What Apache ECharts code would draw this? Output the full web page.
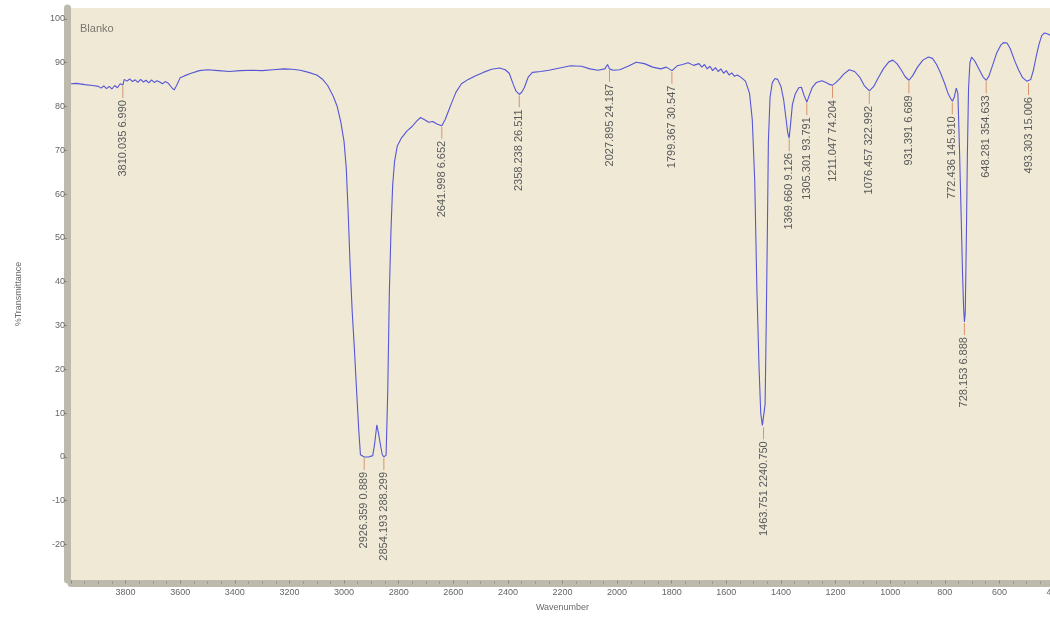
<!DOCTYPE html>
<html>
<head>
<meta charset="utf-8">
<title>Blanko – IR spectrum</title>
<script src="https://cdn.jsdelivr.net/npm/echarts@6/dist/echarts.min.js"></script>
<style>
  html, body { margin: 0; padding: 0; background: #ffffff; }
  #chart { width: 1050px; height: 617px; }
</style>
</head>
<body>
<div id="chart"></div>
<script>
// Sample name shown in the upper-left corner of the plot
const sampleName = 'Blanko';

// Spectrum: wavenumber (cm-1) and % transmittance
const wavenumbers = [
  4000, 3980, 3950, 3920, 3900, 3890, 3880, 3870, 3860, 3850, 3840, 3830, 3820, 3810, 3805,
  3795, 3785, 3775, 3765, 3755, 3745, 3735, 3725, 3715, 3705, 3695, 3685, 3675, 3665, 3655,
  3645, 3632, 3622, 3612, 3600, 3585, 3560, 3530, 3500, 3460, 3420, 3380, 3340, 3300, 3260,
  3220, 3190, 3160, 3130, 3100, 3080, 3060, 3040, 3025, 3012, 3000, 2992, 2985, 2978, 2970,
  2962, 2954, 2946, 2940, 2926, 2910, 2895, 2888, 2880, 2874, 2866, 2860, 2854, 2846, 2840,
  2834, 2828, 2822, 2815, 2805, 2790, 2770, 2750, 2735, 2720, 2705, 2690, 2675, 2660, 2642,
  2630, 2620, 2605, 2590, 2570, 2545, 2520, 2490, 2460, 2430, 2410, 2395, 2380, 2370, 2358,
  2350, 2340, 2325, 2310, 2280, 2250, 2210, 2170, 2130, 2100, 2070, 2045, 2035, 2028, 2015,
  1990, 1960, 1930, 1900, 1870, 1840, 1820, 1799, 1780, 1760, 1740, 1720, 1700, 1690, 1680,
  1670, 1660, 1650, 1640, 1630, 1620, 1610, 1600, 1590, 1580, 1570, 1560, 1545, 1530, 1515,
  1505, 1496, 1488, 1480, 1474, 1468, 1463.75, 1458, 1454, 1450, 1446, 1440, 1432, 1422, 1412,
  1400, 1390, 1382, 1375, 1370, 1364, 1358, 1348, 1335, 1325, 1315, 1305, 1296, 1285, 1270,
  1250, 1235, 1220, 1211, 1200, 1185, 1170, 1150, 1130, 1110, 1095, 1076, 1060, 1045, 1025,
  1005, 990, 975, 960, 945, 931, 918, 900, 880, 860, 845, 830, 815, 800, 788,
  780, 772, 765, 758, 752, 746, 740, 735, 731, 728, 725, 721, 717, 713, 708,
  702, 690, 675, 660, 648, 638, 625, 610, 595, 585, 572, 560, 545, 530, 515,
  500, 493, 485, 475, 465, 455, 445, 435, 425, 410, 400
];
const transmittance = [
  85.2, 85.3, 85.0, 84.8, 84.6, 84.2, 84.7, 84.1, 84.6, 84.0, 84.8, 84.3, 85.2, 84.9, 86.2,
  85.8, 86.3, 85.7, 86.1, 85.5, 86.2, 85.6, 86.0, 85.4, 86.1, 85.5, 85.9, 85.6, 85.2, 85.7,
  85.4, 84.4, 83.8, 85.0, 86.6, 87.0, 87.6, 88.2, 88.4, 88.2, 88.0, 88.2, 88.3, 88.2, 88.4,
  88.6, 88.5, 88.3, 87.8, 87.2, 86.3, 84.8, 82.4, 80.0, 76.5, 72.0, 66.0, 56.0, 44.0, 33.0,
  24.5, 15.0, 6.0, 0.5, 0.0, 0.0, 0.3, 3.0, 7.3, 5.5, 2.5, 0.5, 0.0, 0.4, 15.0,
  38.0, 52.0, 62.0, 67.5, 71.0, 72.8, 74.4, 75.5, 76.6, 77.5, 77.0, 76.4, 76.6, 76.0, 75.6,
  77.0, 78.6, 81.0, 83.3, 85.2, 86.2, 87.0, 87.8, 88.5, 88.8, 88.4, 87.6, 85.0, 83.5, 82.8,
  83.2, 84.3, 86.8, 87.8, 88.0, 88.3, 88.8, 89.3, 89.2, 88.6, 88.3, 88.6, 89.6, 88.6, 88.3,
  88.4, 89.2, 90.1, 89.8, 89.0, 88.6, 89.0, 88.2, 89.3, 89.6, 90.0, 89.4, 89.8, 89.0, 89.6,
  88.6, 89.2, 88.2, 88.9, 88.0, 88.6, 87.6, 88.2, 87.2, 87.7, 86.9, 87.2, 86.6, 85.8, 83.0,
  77.0, 63.0, 38.0, 20.0, 10.0, 7.2, 7.0, 12.0, 30.0, 50.0, 72.0, 82.0, 85.4, 86.4, 86.2,
  84.6, 81.5, 77.5, 74.0, 72.8, 76.5, 80.5, 82.8, 84.3, 84.4, 82.5, 81.0, 82.6, 84.4, 85.5,
  85.9, 85.5, 85.0, 84.9, 85.4, 86.3, 87.4, 88.4, 88.0, 86.6, 84.8, 83.6, 84.6, 86.4, 88.6,
  90.2, 90.6, 89.8, 88.4, 86.8, 86.0, 87.0, 89.0, 90.6, 91.3, 91.0, 89.6, 87.6, 85.2, 83.0,
  82.0, 81.2, 82.2, 84.2, 83.0, 70.0, 55.0, 42.0, 34.0, 30.8, 33.0, 50.0, 70.0, 84.0, 90.0,
  91.3, 90.4, 88.6, 86.8, 86.0, 87.0, 89.4, 92.2, 94.0, 94.6, 94.5, 93.2, 90.6, 88.4, 86.6,
  85.8, 85.6, 86.2, 88.4, 91.5, 94.2, 96.2, 96.8, 96.6, 96.2, 96.0
];

// Peak-pick annotations: position, curve value at the peak, printed label
const peakWavenumbers = [3810.035, 2926.359, 2854.193, 2641.998, 2358.238, 2027.895, 1799.367,
  1463.751, 1369.660, 1305.301, 1211.047, 1076.457, 931.391, 772.436, 728.153, 648.281, 493.303];
const peakValues = [84.9, 0.0, 0.0, 75.6, 82.8, 88.6, 88.2,
  7.0, 72.8, 81.0, 84.9, 83.6, 86.0, 81.2, 30.8, 86.0, 85.6];
const peakLabels = ['3810.035 6.990', '2926.359 0.889', '2854.193 288.299', '2641.998 6.652',
  '2358.238 26.511', '2027.895 24.187', '1799.367 30.547', '1463.751 2240.750', '1369.660 9.126',
  '1305.301 93.791', '1211.047 74.204', '1076.457 322.992', '931.391 6.689', '772.436 145.910',
  '728.153 6.888', '648.281 354.633', '493.303 15.006'];

// Axis ticks
const xMin = 400, xMax = 4000, xStep = 200;
const yTicks = [-20, -10, 0, 10, 20, 30, 40, 50, 60, 70, 80, 90, 100];

const spectrum = wavenumbers.map((w, i) => [w, transmittance[i]]);
const peaks = peakWavenumbers.map((w, i) => [w, peakValues[i], peakLabels[i]]);

const FONT = '"Liberation Sans", Arial, sans-serif';
const chart = echarts.init(document.getElementById('chart'), null, { renderer: 'canvas' });

chart.setOption({
  animation: false,
  backgroundColor: '#ffffff',
  grid: {
    left: 71, right: -4, top: 8, bottom: 37,
    outerBoundsMode: 'none',
    containLabel: false,
    show: true, backgroundColor: '#efe9d6', borderWidth: 0
  },
  graphic: [{
    type: 'text', left: 80, top: 23, z: 10,
    style: { text: sampleName, fill: '#7a776e', font: '11px ' + FONT }
  }],
  xAxis: {
    type: 'value', inverse: true, min: xMin, max: xMax, interval: xStep,
    offset: 3.5,
    name: 'Wavenumber', nameLocation: 'middle', nameGap: 20,
    nameTextStyle: { color: '#6a6a6a', fontSize: 9, fontFamily: FONT },
    axisLine: { show: true, onZero: false, lineStyle: { color: '#bdb9ad', width: 7 } },
    axisTick: { show: true, inside: true, length: 3, lineStyle: { color: '#8a877e', width: 1 } },
    minorTick: { show: true, splitNumber: 4, length: 2, lineStyle: { color: '#8f8c84' } },
    axisLabel: {
      color: '#666666', fontSize: 9, fontFamily: FONT, margin: 5,
      showMaxLabel: false, showMinLabel: true,
      formatter: v => String(v)
    },
    splitLine: { show: false }
  },
  yAxis: {
    type: 'value', min: -28.1, max: 102.5,
    offset: 4,
    name: '%Transmittance', nameLocation: 'middle', nameGap: 44,
    nameTextStyle: { color: '#6a6a6a', fontSize: 9, fontFamily: FONT },
    axisLine: { show: true, onZero: false, lineStyle: { color: '#bdb9ad', width: 7 } },
    axisTick: { show: true, customValues: yTicks, length: 3, lineStyle: { color: '#8a877e' } },
    axisLabel: { customValues: yTicks, color: '#666666', fontSize: 9, fontFamily: FONT, margin: 2 },
    splitLine: { show: false }
  },
  series: [
    {
      type: 'line',
      data: spectrum,
      showSymbol: false,
      smooth: false,
      lineStyle: { color: '#5656d6', width: 1.1 },
      z: 3
    },
    {
      type: 'custom',
      data: peaks,
      encode: { x: 0, y: 1 },
      z: 4,
      clip: false,
      renderItem: function (params, api) {
        const p = api.coord([api.value(0), api.value(1)]);
        const lead = 13;
        const label = peaks[params.dataIndex][2];
        return {
          type: 'group',
          children: [
            {
              type: 'line',
              shape: { x1: p[0], y1: p[1] + 1, x2: p[0], y2: p[1] + lead },
              style: { stroke: '#d9956c', lineWidth: 1 }
            },
            {
              type: 'text',
              x: p[0], y: p[1] + lead + 2,
              rotation: Math.PI / 2,
              style: {
                text: label, align: 'right', verticalAlign: 'middle',
                fill: '#5a5a5a', font: '11px ' + FONT
              }
            }
          ]
        };
      }
    }
  ]
});
</script>
</body>
</html>
